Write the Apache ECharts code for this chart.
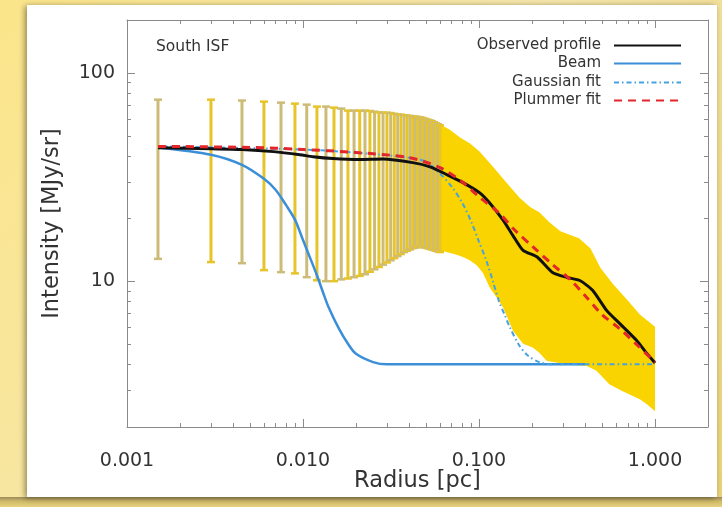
<!DOCTYPE html>
<html><head><meta charset="utf-8">
<script src="https://cdn.jsdelivr.net/npm/echarts@6/dist/echarts.min.js"></script>
<style>html,body{margin:0;padding:0;background:#f7e59c;}#c{width:722px;height:507px;}</style>
</head><body><div id="c"></div>
<script>
// ---- tick values ----
const xMajorTicks = [0.001, 0.01, 0.1, 1];
const xMinorTicks = [0.002,0.003,0.004,0.005,0.006,0.007,0.008,0.009,
                     0.02,0.03,0.04,0.05,0.06,0.07,0.08,0.09,
                     0.2,0.3,0.4,0.5,0.6,0.7,0.8,0.9];
const yMajorTicks = [10, 100];
const yMinorTicks = [3,4,5,6,7,8,9,20,30,40,50,60,70,80,90];

// ---- observed profile ----
const profileR = [0.0015,0.003,0.0045,0.0068,0.0096,0.0114,0.0148,0.021,0.0284,0.042,0.0527,0.066,0.083,0.101,0.115,0.137,0.156,0.178,0.214,0.263,0.316,0.374,0.443,0.532,0.631,0.789,0.877,1.0];
const profileI = [43.9,43.4,43.0,42.0,40.6,39.7,38.9,38.5,38.7,37.2,35.5,32.5,29.5,26.6,23.8,19.7,16.6,14.1,13.1,11.0,10.45,10.1,9.05,7.24,6.27,5.19,4.63,4.06];

// ---- Plummer fit ----
const plummerR = [0.0015,0.005,0.01,0.02,0.04,0.06,0.08,0.1,0.13,0.16,0.2,0.26,0.33,0.4,0.5,0.63,0.8,1.0];
const plummerI = [44.5,44.0,43.0,41.6,39.3,35.2,30.1,25.5,21.3,17.6,14.8,12.1,10.2,8.56,6.93,5.93,4.91,4.1];

// ---- Gaussian fit ----
const gaussR = [0.0015,0.01,0.02,0.04,0.05,0.06,0.07,0.08,0.09,0.1,0.11,0.12,0.13,0.14,0.15,0.17,0.19,0.22,0.26,1.0];
const gaussI = [44.5,43.0,41.5,39.3,37.5,33.0,28.5,24.0,19.5,15.5,12.6,10.0,8.0,6.9,6.0,4.9,4.4,4.1,4.0,4.0];

// ---- Beam ----
const beamR = [0.0015,0.003,0.0045,0.006,0.007,0.008,0.009,0.01,0.011,0.012,0.013,0.014,0.016,0.018,0.02,0.025,0.03,0.4];
const beamI = [44.0,40.6,36.3,31.1,27.5,23.3,19.8,15.8,12.9,10.7,8.85,7.49,5.93,5.02,4.49,4.1,4.0,4.0];

// ---- individual error bars ----
const barR = [0.0015,0.003,0.0045,0.006,0.0075,0.009,0.0105,0.012,0.0135,0.015,0.0165,0.018,0.0195,0.021,0.0225,0.024,0.0255,0.027,0.0285,0.03,0.0315,0.033,0.0345,0.036,0.0375,0.039,0.0405,0.042,0.0435,0.045,0.0465,0.048,0.0495,0.051,0.0525,0.054,0.0555,0.057,0.0585,0.06];
const barHi = [74.8,74.8,74.1,73.2,72.4,71.6,70.8,69.3,69.3,68.5,67.8,66.3,66.3,66.3,66.3,66.0,65.5,65.0,64.8,64.8,64.5,64.0,63.6,63.4,63.0,62.8,62.5,62.2,62.0,61.8,61.5,61.0,60.5,60.0,59.5,59.0,58.3,57.6,57.0,56.3];
const barLo = [12.8,12.35,12.2,11.3,11.05,10.9,10.45,10.1,10.0,10.0,10.2,10.3,10.45,10.6,10.8,11.1,11.4,11.7,12.0,12.3,12.6,12.9,13.2,13.5,13.8,14.0,14.2,14.4,14.5,14.6,14.6,14.6,14.5,14.4,14.3,14.2,14.1,14.0,13.9,13.8];

// ---- dense error envelope (bars merge) ----
const bandHiR = [0.06,0.068,0.078,0.089,0.101,0.12,0.15,0.17,0.195,0.22,0.25,0.29,0.33,0.37,0.43,0.49,0.58,0.70,0.82,1.0];
const bandHi  = [56.7,53.6,49.1,45.9,42.0,35.5,28.5,25.2,22.8,21.5,19.3,17.4,16.7,16.1,14.4,11.6,9.67,8.09,6.93,6.06];
const bandLoR = [0.06,0.066,0.073,0.081,0.089,0.097,0.105,0.115,0.126,0.137,0.156,0.178,0.203,0.22,0.243,0.316,0.41,0.465,0.55,0.65,0.82,0.9,1.0];
const bandLo  = [14.1,13.8,13.5,13.1,12.6,11.95,11.05,9.35,8.37,7.49,5.8,5.02,4.8,4.54,4.15,4.0,3.93,3.72,3.21,2.98,2.72,2.57,2.38];

const FONT = 'DejaVu Sans';
const TXT = '#333';
const AX = '#8a8a8a';
const zip = (a, b) => a.map((v, i) => [v, b[i]]);

function xAx(pos, ticks, len, line, label) {
  return {
    type: 'log', logBase: 10, min: 0.001, max: 2, position: pos, gridIndex: 0,
    axisLine: { show: line, lineStyle: { color: AX, width: 1 } },
    axisTick: { show: true, inside: true, length: len, customValues: ticks, lineStyle: { color: AX, width: 1 } },
    axisLabel: label ? { show: true, customValues: ticks, formatter: v => Number(v).toFixed(3),
      fontSize: 19, color: TXT, fontFamily: FONT, margin: 25 } : { show: false },
    splitLine: { show: false }, minorTick: { show: false }, axisPointer: { show: false }
  };
}
function yAx(pos, ticks, len, line, label) {
  return {
    type: 'log', logBase: 10, min: 2, max: 180, position: pos, gridIndex: 0,
    axisLine: { show: line, lineStyle: { color: AX, width: 1 } },
    axisTick: { show: true, inside: true, length: len, customValues: ticks, lineStyle: { color: AX, width: 1 } },
    axisLabel: label ? { show: true, customValues: ticks, formatter: v => String(Math.round(v)),
      fontSize: 19, color: TXT, fontFamily: FONT, margin: 12 } : { show: false },
    splitLine: { show: false }, minorTick: { show: false }, axisPointer: { show: false }
  };
}

const xAxes = [xAx('bottom', xMajorTicks, 8, true, true), xAx('bottom', xMinorTicks, 4, false, false),
               xAx('top', xMajorTicks, 8, true, false), xAx('top', xMinorTicks, 4, false, false)];
Object.assign(xAxes[0], { name: 'Radius [pc]', nameLocation: 'middle', nameGap: 43, nameMoveOverlap: false,
  nameTextStyle: { fontSize: 22.5, color: TXT, fontFamily: FONT } });
const yAxes = [yAx('left', yMajorTicks, 8, true, true), yAx('left', yMinorTicks, 4, false, false),
               yAx('right', yMajorTicks, 8, true, false), yAx('right', yMinorTicks, 4, false, false)];
Object.assign(yAxes[0], { name: 'Intensity [MJy/sr]', nameLocation: 'middle', nameGap: 63, nameMoveOverlap: false,
  nameTextStyle: { fontSize: 22.5, color: TXT, fontFamily: FONT } });

const legendRows = [['Observed profile', 37], ['Beam', 55], ['Gaussian fit', 74], ['Plummer fit', 92]];
const legends = legendRows.map(([name, top]) => ({
  data: [name], right: 35, top: top - 4, orient: 'vertical', align: 'right',
  itemWidth: 67, itemHeight: 14, selectedMode: false,
  itemStyle: { opacity: 0 },
  textStyle: { fontSize: 15, color: TXT, fontFamily: FONT, padding: [0, 8, 0, 0] }
}));

const option = {
  animation: false,
  backgroundColor: '#f7e59c',
  grid: { left: 127, right: 14, top: 20, bottom: 80, containLabel: false },
  title: { text: 'South ISF', left: 151, top: 34,
    textStyle: { fontSize: 15.5, fontWeight: 'normal', color: TXT, fontFamily: FONT } },
  legend: legends,
  graphic: [
    { type: 'rect', z: -20, silent: true, shape: { x: 0, y: 0, width: 722, height: 507 },
      style: { fill: new echarts.graphic.LinearGradient(0, 0, 1, 1, [
        { offset: 0, color: '#fbe58a' }, { offset: 0.5, color: '#f6e7ac' }, { offset: 1, color: '#e9d27a' }]) } },
    { type: 'rect', z: -19, silent: true, shape: { x: 0, y: 497, width: 722, height: 10 },
      style: { fill: new echarts.graphic.LinearGradient(0, 0, 0, 1, [
        { offset: 0, color: '#9a8a5a' }, { offset: 0.4, color: '#cdb868' }, { offset: 1, color: '#e8d27c' }]) } },
    { type: 'rect', z: -18, silent: true, shape: { x: 27, y: 5, width: 690, height: 492 },
      style: { fill: '#ffffff', shadowBlur: 6, shadowColor: 'rgba(60,50,20,0.55)', shadowOffsetX: -2, shadowOffsetY: 1 } }
  ],
  xAxis: xAxes,
  yAxis: yAxes,
  series: [
    { type: 'custom', name: 'band', xAxisIndex: 0, yAxisIndex: 0, z: 1, silent: true,
      data: [[0.1, 10]],
      renderItem: (params, api) => {
        const pts = [];
        bandHiR.forEach((r, i) => pts.push(api.coord([r, bandHi[i]])));
        for (let i = bandLoR.length - 1; i >= 0; i--) pts.push(api.coord([bandLoR[i], bandLo[i]]));
        return { type: 'polygon', shape: { points: pts }, style: { fill: '#f9d400' } };
      } },
    { type: 'custom', name: 'errbars', xAxisIndex: 0, yAxisIndex: 0, z: 2, silent: true,
      data: barR.map((r, i) => [r, barLo[i], barHi[i]]),
      encode: { x: 0, y: [1, 2] },
      renderItem: (params, api) => {
        const r = api.value(0);
        const top = api.coord([r, api.value(2)]);
        const bot = api.coord([r, api.value(1)]);
        const col = params.dataIndex % 2 === 0 ? '#cdbb78' : '#e6c42a';
        return { type: 'group', children: [
          { type: 'rect', shape: { x: top[0] - 1.5, y: top[1], width: 3, height: bot[1] - top[1] }, style: { fill: col } },
          { type: 'rect', shape: { x: top[0] - 4, y: top[1] - 1, width: 8, height: 2.5 }, style: { fill: col } },
          { type: 'rect', shape: { x: bot[0] - 4, y: bot[1] - 1.5, width: 8, height: 2.5 }, style: { fill: col } }
        ] };
      } },
    { type: 'line', name: 'Beam', data: zip(beamR, beamI), xAxisIndex: 0, yAxisIndex: 0, z: 3,
      symbol: 'none', smooth: 0.3, lineStyle: { color: '#3b8fd8', width: 2.5 }, itemStyle: { color: '#3b8fd8' } },
    { type: 'line', name: 'Gaussian fit', data: zip(gaussR, gaussI), xAxisIndex: 0, yAxisIndex: 0, z: 4,
      symbol: 'none', smooth: 0.3, lineStyle: { color: '#45a3e0', width: 2, type: [5, 3, 1.5, 3] }, itemStyle: { color: '#45a3e0' } },
    { type: 'line', name: 'Observed profile', data: zip(profileR, profileI), xAxisIndex: 0, yAxisIndex: 0, z: 5,
      symbol: 'none', smooth: 0.2, lineStyle: { color: '#111', width: 3 }, itemStyle: { color: '#111' } },
    { type: 'line', name: 'Plummer fit', data: zip(plummerR, plummerI), xAxisIndex: 0, yAxisIndex: 0, z: 6,
      symbol: 'none', smooth: 0.3, lineStyle: { color: '#e3262a', width: 3, type: [8, 6] }, itemStyle: { color: '#e3262a' } }
  ]
};
const chart = echarts.init(document.getElementById('c'));
chart.setOption(option);
</script></body></html>
